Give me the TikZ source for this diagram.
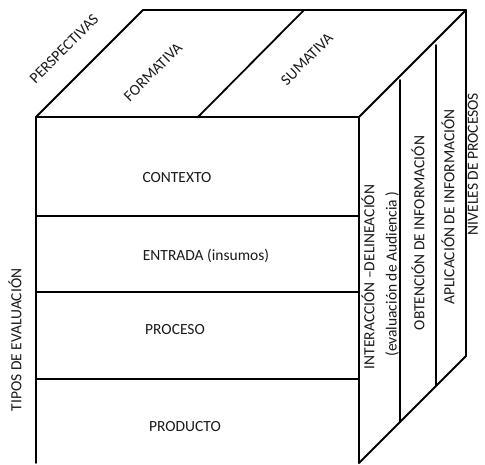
\documentclass[tikz,border=0pt]{standalone}
\usepackage{fontspec}
\setmainfont{Carlito}
\begin{document}
\begin{tikzpicture}[x=1pt,y=-1pt,
  edge/.style={line width=1.8pt,line cap=round,line join=round},
  lbl/.style={font=\fontsize{15.5}{18}\selectfont,inner sep=0pt,text=black!90},
  rlbl/.style={lbl,rotate=90},
  dlbl/.style={lbl,rotate=45}]
\useasboundingbox (0,0) rectangle (485,464);
% corners
\coordinate (FTL) at (36,117);
\coordinate (FTR) at (359,117);
\coordinate (FBL) at (36,463);
\coordinate (FBR) at (359,463);
\coordinate (BTL) at (143,10);
\coordinate (BTR) at (466,10);
\coordinate (BBR) at (466,356);
% front face
\draw[edge] (FBL) -- (FTL) -- (FTR) -- (FBR);
\draw[edge] (36,216) -- (359,216);
\draw[edge] (36,292) -- (359,292);
\draw[edge] (36,379) -- (359,379);
% top face
\draw[edge] (FTL) -- (BTL) -- (BTR) -- (FTR);
\draw[edge] (198,117) -- (304,10);
% right face
\draw[edge] (BTR) -- (BBR) -- (FBR);
\draw[edge] (400,80) -- (400,422);
\draw[edge] (436,45) -- (436,386);
% front labels
\node[lbl] (ctx) at (177,178) {CONTEXTO};
\node[lbl] (ent) at (206,256) {ENTRADA (insumos)};
\node[lbl] (pro) at (175,330) {PROCESO};
\node[lbl] (prd) at (185,427) {PRODUCTO};
% top labels
\node[dlbl] (per) at (64,49) {PERSPECTIVAS};
\node[dlbl] (for) at (153,72) {FORMATIVA};
\node[dlbl] (sum) at (307,59) {SUMATIVA};
% side labels
\node[rlbl] (int) at (368,277) {INTERACCIÓN –DELINEACIÓN};
\node[rlbl] (aud) at (392,274) {(evaluación de Audiencia )};
\node[rlbl] (obt) at (418,233) {OBTENCIÓN DE INFORMACIÓN};
\node[rlbl] (apl) at (448,207) {APLICACIÓN DE INFORMACIÓN};
\node[rlbl] (niv) at (473,164) {NIVELES DE PROCESOS};
\node[rlbl] (tip) at (15,340) {TIPOS DE EVALUACIÓN};
\end{tikzpicture}
\end{document}
